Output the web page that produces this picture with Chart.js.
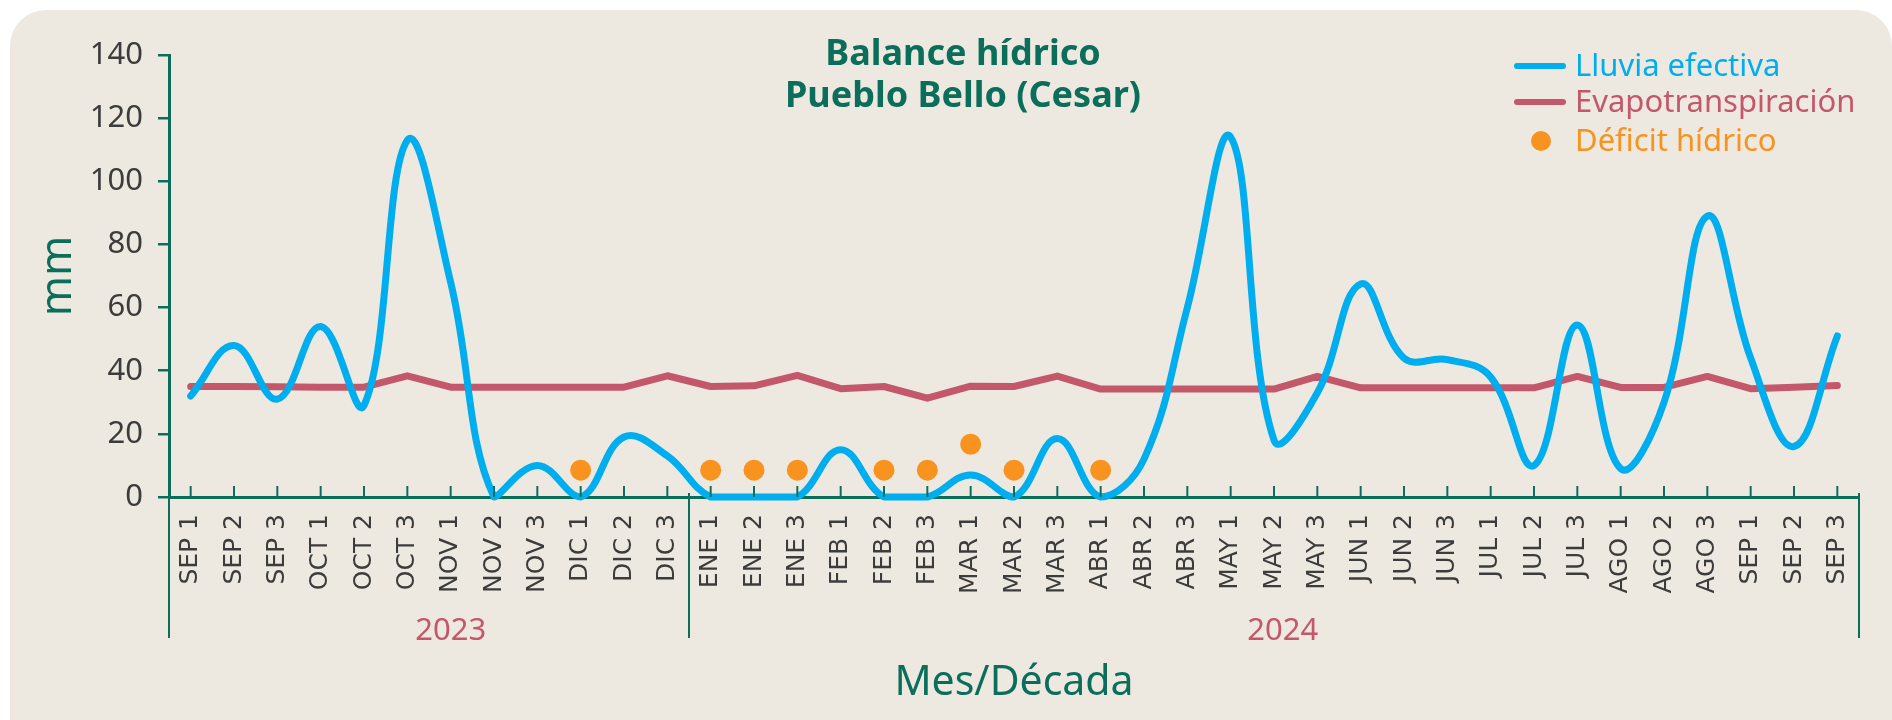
<!DOCTYPE html>
<html lang="es">
<head>
<meta charset="utf-8">
<title>Balance hídrico - Pueblo Bello (Cesar)</title>
<script src="https://cdn.jsdelivr.net/npm/chart.js@4.4.1/dist/chart.umd.min.js"></script>
<style>
  html, body { margin: 0; padding: 0; background: #fff; }
  body { width: 1892px; height: 720px; position: relative; overflow: hidden; }
  #panel { position: absolute; left: 10px; top: 10px; width: 1882px; height: 720px;
           background: #EDE9E1; border-radius: 36px 36px 0 0; }
  #chart { position: absolute; left: 0; top: 0; }
</style>
</head>
<body>
<div id="panel"></div>
<canvas id="chart" width="1892" height="720"></canvas>
<script>
// ---- data ----
const decadas = ['SEP 1','SEP 2','SEP 3','OCT 1','OCT 2','OCT 3','NOV 1','NOV 2','NOV 3','DIC 1','DIC 2','DIC 3',
  'ENE 1','ENE 2','ENE 3','FEB 1','FEB 2','FEB 3','MAR 1','MAR 2','MAR 3','ABR 1','ABR 2','ABR 3',
  'MAY 1','MAY 2','MAY 3','JUN 1','JUN 2','JUN 3','JUL 1','JUL 2','JUL 3','AGO 1','AGO 2','AGO 3',
  'SEP 1','SEP 2','SEP 3'];
const lluvia = [32, 48, 31, 54, 29, 113, 68, 0, 10, 0, 19, 13,
  0, 0, 0, 15, 0, 0, 7, 0, 18.5, 0, 12, 60,
  114, 18, 33, 67.5, 44, 43.5, 38, 10, 54.5, 9, 30, 89,
  44, 16, 51];
const evapo = [35, 35, 34.9, 34.8, 34.8, 38.4, 34.8, 34.8, 34.8, 34.8, 34.8, 38.4,
  35, 35.2, 38.5, 34.3, 35, 31.3, 35.1, 35, 38.3, 34.2, 34.2, 34.2,
  34.2, 34.2, 38.2, 34.6, 34.6, 34.6, 34.6, 34.6, 38.2, 34.7, 34.7, 38.2,
  34.3, 34.8, 35.3];
const deficit = [null, null, null, null, null, null, null, null, null, 8.5, null, null,
  8.5, 8.5, 8.5, null, 8.5, 8.5, 16.7, 8.5, null, 8.5, null, null,
  null, null, null, null, null, null, null, null, null, null, null, null,
  null, null, null];
const yTicks = [0, 20, 40, 60, 80, 100, 120, 140];
const yearLabels = ['2023', '2024'];
const yearStart = [0, 12];      // first category of each year
const yearCenter = [6, 25.2];   // where the year label sits (category index)

const VERDE = '#0B6E5A';
const AZUL = '#00AEEF';
const ROSA = '#C4586B';
const NARANJA = '#F7931E';
const GRIS = '#3C3C3C';

// ---- extra drawing: ticks, year groups, titles, legend ----
const extras = {
  id: 'extras',
  afterDraw(chart) {
    const c = chart.ctx;
    const xs = chart.scales.x;
    const area = chart.chartArea;
    c.save();

    // small ticks pointing up from the x axis
    c.strokeStyle = VERDE;
    c.lineWidth = 2;
    decadas.forEach((d, i) => {
      const x = xs.getPixelForValue(i);
      c.beginPath();
      c.moveTo(x, area.bottom - 11);
      c.lineTo(x, area.bottom);
      c.stroke();
    });

    // year separators
    const seps = [area.left, area.right];
    yearStart.slice(1).forEach(s => {
      seps.push((xs.getPixelForValue(s - 1) + xs.getPixelForValue(s)) / 2);
    });
    seps.forEach(x => {
      c.beginPath();
      c.moveTo(x, area.bottom - 4);
      c.lineTo(x, 638);
      c.stroke();
    });

    // year labels
    c.fillStyle = ROSA;
    c.font = '31px "Noto Sans"';
    c.textAlign = 'center';
    c.textBaseline = 'middle';
    yearLabels.forEach((y, i) => {
      c.fillText(y, xs.getPixelForValue(yearCenter[i]), 631);
    });

    // axis titles
    c.fillStyle = VERDE;
    c.font = '41px "Noto Sans"';
    c.fillText('Mes/Década', (area.left + area.right) / 2, 683);
    c.save();
    c.translate(59, (area.top + area.bottom) / 2);
    c.rotate(-Math.PI / 2);
    c.font = '43px "Noto Sans"';
    c.fillText('mm', 0, 0);
    c.restore();

    // title
    c.font = 'bold 36px "Noto Sans"';
    c.fillText('Balance hídrico', 963, 55);
    c.fillText('Pueblo Bello (Cesar)', 963, 97);

    // legend
    c.font = '31px "Noto Sans"';
    c.textAlign = 'left';
    c.lineCap = 'round';
    c.lineWidth = 6;
    const leg = [['Lluvia efectiva', AZUL, 66], ['Evapotranspiración', ROSA, 102], ['Déficit hídrico', NARANJA, 141]];
    leg.forEach(([txt, col, y], i) => {
      if (i < 2) {
        c.strokeStyle = col;
        c.beginPath();
        c.moveTo(1517, y);
        c.lineTo(1563, y);
        c.stroke();
      } else {
        c.fillStyle = col;
        c.beginPath();
        c.arc(1541, y, 10, 0, Math.PI * 2);
        c.fill();
      }
      c.fillStyle = col;
      c.fillText(txt, 1575, y + 1);
    });
    c.restore();
  }
};

new Chart(document.getElementById('chart'), {
  type: 'line',
  data: {
    labels: decadas,
    datasets: [
      {
        label: 'Déficit hídrico',
        data: deficit,
        showLine: false,
        pointRadius: 10.5,
        pointBackgroundColor: NARANJA,
        pointBorderWidth: 0
      },
      {
        label: 'Lluvia efectiva',
        data: lluvia,
        borderColor: AZUL,
        borderWidth: 7,
        tension: 0.4,
        pointRadius: 0,
        borderCapStyle: 'round',
        borderJoinStyle: 'round',
        clip: false
      },
      {
        label: 'Evapotranspiración',
        data: evapo,
        borderColor: ROSA,
        borderWidth: 7,
        tension: 0,
        pointRadius: 0,
        borderCapStyle: 'round',
        borderJoinStyle: 'round'
      }
    ]
  },
  options: {
    responsive: false,
    animation: false,
    layout: { padding: { left: 0, top: 55, right: 33, bottom: 0 } },
    plugins: { legend: { display: false }, title: { display: false }, tooltip: { enabled: false } },
    scales: {
      x: {
        offset: true,
        grid: { display: false },
        border: { display: true, color: VERDE, width: 3 },
        ticks: {
          autoSkip: false, minRotation: 90, maxRotation: 90, padding: 9,
          color: GRIS, font: { family: 'DejaVu Sans', size: 25 }
        },
        afterFit(scale) { scale.height = 223; }
      },
      y: {
        min: 0,
        max: 140,
        afterBuildTicks(scale) { scale.ticks = yTicks.map(v => ({ value: v })); },
        grid: { drawOnChartArea: false, drawTicks: true, tickLength: 11, color: VERDE, lineWidth: 2.5 },
        border: { display: true, color: VERDE, width: 3 },
        ticks: { padding: 15, color: GRIS, font: { family: 'Noto Sans', size: 31 } },
        afterFit(scale) { scale.width = 169; }
      }
    }
  },
  plugins: [extras]
});
</script>
</body>
</html>
